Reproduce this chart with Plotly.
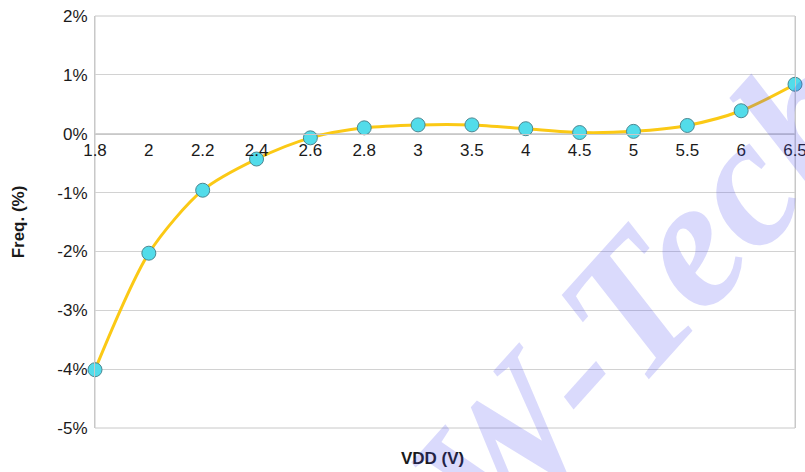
import plotly.graph_objects as go

vdd_labels = ["1.8", "2", "2.2", "2.4", "2.6", "2.8", "3", "3.5", "4", "4.5", "5", "5.5", "6", "6.5"]
freq_pct = [-4.01, -2.03, -0.96, -0.43, -0.07, 0.10, 0.15, 0.15, 0.085, 0.02, 0.04, 0.14, 0.39, 0.84]
y_ticks = [-5, -4, -3, -2, -1, 0, 1, 2]
y_tick_text = [f"{v}%" for v in y_ticks]
y_range = [-5, 2]

W, H = 805, 472
# target plot area in window pixels: left 95, right 795, top 16, bottom 428
ml, mr, mt, mb = 95, 10, 16, 44
PW, PH = W - ml - mr, H - mt - mb


def px_to_paper(xw, yw):
    return (xw - ml) / PW, ((H - mb) - yw) / PH


fig = go.Figure()
fig.add_trace(go.Scatter(
    x=vdd_labels, y=freq_pct, mode="lines+markers",
    line=dict(color="#fbc915", width=3, shape="spline", smoothing=0.8),
    marker=dict(size=14, color="#52dcea", line=dict(color="#4c8791", width=1)),
    showlegend=False, cliponaxis=False,
))

zero_pos = (0 - y_range[0]) / (y_range[1] - y_range[0])

xt_x, xt_y = px_to_paper(432, 458)
wm_x, wm_y = px_to_paper(640, 295)

fig.update_layout(
    width=W, height=H,
    margin=dict(l=ml, r=mr, t=mt, b=mb),
    paper_bgcolor="white", plot_bgcolor="white",
    font=dict(family="Liberation Sans, Arial", size=17, color="#1a1a1a"),
    xaxis=dict(
        type="category", range=[0, len(vdd_labels) - 1],
        anchor="free", position=zero_pos, automargin=False,
        showgrid=False, zeroline=False, showline=True, linecolor="#c8c8c8", linewidth=1,
        ticks="", ticklabelstandoff=1, tickfont=dict(size=17), ticklabeloverflow="allow",
    ),
    yaxis=dict(
        range=y_range, tickvals=y_ticks, ticktext=y_tick_text, automargin=False,
        showgrid=True, gridcolor="#d2d2d2", gridwidth=1,
        zeroline=False, showline=True, linecolor="#c8c8c8", linewidth=1, mirror=True,
        ticks="", ticklabelstandoff=3, tickfont=dict(size=17), ticklabeloverflow="allow",
        title=dict(text="<b>Freq. (%)</b>", font=dict(size=17), standoff=28),
    ),
    shapes=[dict(type="rect", xref="paper", yref="paper", x0=0, x1=1, y0=0, y1=1,
                 line=dict(color="#c8c8c8", width=1), layer="below")],
    annotations=[
        dict(text="<b>VDD (V)</b>", xref="paper", yref="paper", x=xt_x, y=xt_y,
             showarrow=False, font=dict(size=17, color="#1a1a1a"), xanchor="center", yanchor="middle"),
        dict(text="W-Tech", xref="paper", yref="paper", x=wm_x, y=wm_y,
             showarrow=False, textangle=-48,
             font=dict(family="Liberation Serif", size=185, color="rgba(70,70,240,0.2)",
                       weight="bold", style="italic"),
             xanchor="center", yanchor="middle"),
    ],
)

fig.write_html(
    "out.html",
    config={"displayModeBar": False},
    post_script="document.body.style.margin='0';document.body.style.overflow='hidden';",
)
